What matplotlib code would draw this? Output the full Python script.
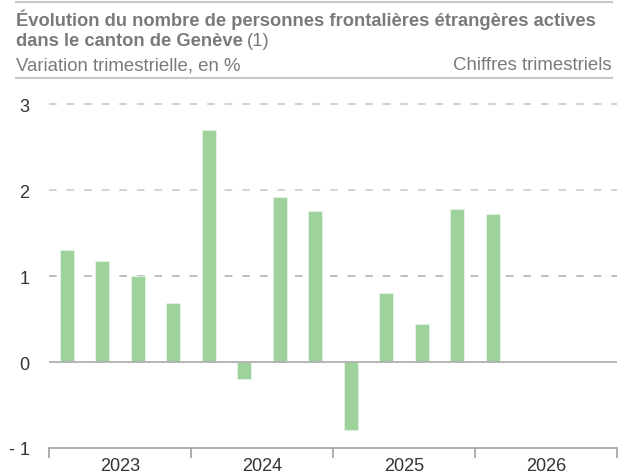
import matplotlib
matplotlib.use("Agg")
import matplotlib.pyplot as plt
import matplotlib.transforms as mtransforms
from matplotlib.lines import Line2D
import numpy as np

plt.rcParams['font.family'] = ['Liberation Sans', 'DejaVu Sans']

years = ["2023", "2024", "2025", "2026"]
values = [1.31, 1.18, 1.00, 0.69, 2.70, -0.20, 1.92, 1.76, -0.79, 0.80, 0.44, 1.78, 1.72]
yticks = [-1, 0, 1, 2, 3]
ytick_labels = ["- 1", "0", "1", "2", "3"]

W, H = 630, 477
fig = plt.figure(figsize=(6.3, 4.77), dpi=100)

ax = fig.add_axes([49 / W, 1 - 449 / H, (617 - 49) / W, (449 - 105.3) / H])
x = np.arange(len(values)) + 0.5
ax.bar(x, values, width=0.4, color="#9ed29b", edgecolor="#e6f4e5", linewidth=0.6, zorder=3)
ax.set_xlim(0, 16)
ax.set_ylim(-1, 3)

grid_colors = {1: "#acacac", 2: "#c8c8c8", 3: "#c4c4c4"}
for yv, c in grid_colors.items():
    ax.axhline(yv, color=c, lw=1.1, dashes=(5, 6.5), zorder=1, clip_on=False)
ax.axhline(0, color="#b0b0b0", lw=1.3, zorder=4)

for s in ["top", "right", "left"]:
    ax.spines[s].set_visible(False)
ax.spines["bottom"].set_color("#a8a8a8")
ax.spines["bottom"].set_linewidth(1.3)

ax.set_yticks(yticks)
ax.set_yticklabels(ytick_labels)
ax.tick_params(axis="y", length=0, pad=14, labelsize=13, labelcolor="#333333")

ax.set_xticks([0, 4, 8, 12, 16])
ax.set_xticklabels([])
ax.tick_params(axis="x", length=7, width=1.3, color="#a8a8a8", direction="out")
off = mtransforms.ScaledTranslation(0, -9 / 100, fig.dpi_scale_trans)
for i, yl in enumerate(years):
    ax.text(i * 4 + 2, -1.0, yl, ha="center", va="top", fontsize=13, color="#333333",
            transform=ax.transData + off)

# header
fig.add_artist(Line2D([16 / W, 612 / W], [1 - 3 / H, 1 - 3 / H], color="#c8c8c8", lw=1.5))
fig.add_artist(Line2D([16 / W, 612 / W], [1 - 79 / H, 1 - 79 / H], color="#c8c8c8", lw=1.5))

tc = "#7a7a7a"
fig.text(16 / W, 1 - 25.5 / H, "Évolution du nombre de personnes frontalières étrangères actives",
         fontsize=13.2, fontweight="bold", color=tc, va="baseline")
t2 = fig.text(16 / W, 1 - 46.5 / H, "dans le canton de Genève",
              fontsize=13.2, fontweight="bold", color=tc, va="baseline")
fig.canvas.draw()
bb = t2.get_window_extent()
fig.text(bb.x1 / W + 4 / W, 1 - 46.5 / H, "(1)", fontsize=13.4, color=tc, va="baseline")
fig.text(16 / W, 1 - 70.5 / H, "Variation trimestrielle, en %", fontsize=13.4, color=tc, va="baseline")
fig.text(612 / W, 1 - 70.5 / H, "Chiffres trimestriels", fontsize=13.4, color=tc, va="baseline", ha="right")

fig.savefig("out.png", dpi=100)
